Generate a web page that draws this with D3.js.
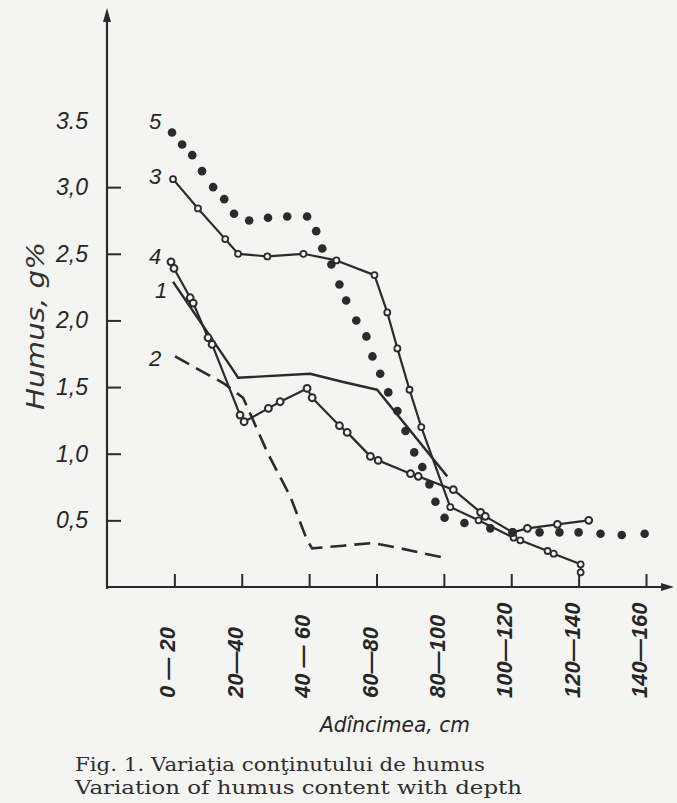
<!DOCTYPE html>
<html><head><meta charset="utf-8">
<script src="https://cdn.jsdelivr.net/npm/d3@7"></script>
<style>
html,body{margin:0;padding:0;background:#f4f4f2;}
svg{display:block;}
</style></head>
<body>
<script>
// ---- data ----
const depthLabels = ["0 — 20","20—40","40 — 60","60—80","80—100","100—120","120—140","140—160"];
const depthTicks = [20,40,60,80,100,120,140,160];
const humusTicks = [0.5,1.0,1.5,2.0,2.5,3.0,3.5];
const humusTickLabels = ["0,5","1,0","1,5","2,0","2,5","3,0","3.5"];

const s5Depth = [19.3,22.3,25.3,28.2,31.5,34.8,37.7,42.2,47.8,53.5,59.4,62.1,63.9,66.6,69.0,71.0,74.0,77.0,78.8,81.1,83.5,86.2,88.6,91.2,93.6,95.7,97.5,100.2,106.1,113.8,120.4,128.4,134.3,140.0,146.5,152.8,159.6];
const s5Humus = [3.41,3.32,3.24,3.12,3.00,2.91,2.80,2.75,2.77,2.78,2.78,2.67,2.54,2.42,2.27,2.15,2.00,1.88,1.73,1.60,1.46,1.32,1.17,1.01,0.90,0.77,0.64,0.52,0.48,0.44,0.41,0.41,0.41,0.41,0.40,0.39,0.40];

const s3Depth = [19.6,27.0,35.1,38.9,47.6,58.3,68.1,79.4,83.2,86.2,89.8,93.3,101.9,110.3,120.7,122.7,130.8,132.6,140.6,140.6];
const s3Humus = [3.06,2.84,2.61,2.50,2.48,2.50,2.45,2.34,2.06,1.79,1.48,1.20,0.60,0.50,0.37,0.35,0.27,0.25,0.17,0.11];

const s4Depth = [19.0,19.9,24.7,25.6,30.0,31.2,39.5,40.7,47.9,51.4,59.4,60.9,69.0,71.3,78.2,80.5,90.1,92.4,102.8,110.9,112.3,120.4,124.8,133.7,143.0];
const s4Humus = [2.44,2.39,2.17,2.13,1.87,1.82,1.29,1.24,1.34,1.39,1.49,1.42,1.21,1.16,0.98,0.95,0.85,0.83,0.73,0.56,0.53,0.41,0.44,0.47,0.50];

const s1Depth = [19.6,37.1,38.9,60.3,69.8,80.2,101.0];
const s1Humus = [2.29,1.64,1.57,1.60,1.54,1.48,0.83];

const s2Depth = [20.2,34.5,40.4,47.6,54.4,59.4,60.9,70.1,78.8,87.1,99.9];
const s2Humus = [1.73,1.53,1.42,1.01,0.68,0.35,0.29,0.31,0.33,0.29,0.22];

const seriesNames = ["5","3","4","1","2"];
const seriesLabelHumus = [3.5,3.08,2.48,2.23,1.72];

// ---- drawing ----
const W = 677, H = 803;
const ink = "#2b2b2b";
const svg = d3.select("body").append("svg").attr("width", W).attr("height", H);
svg.append("rect").attr("width", W).attr("height", H).attr("fill", "#f4f4f2");

const x = d3.scaleLinear().domain([0,160]).range([107,646]);
const y = d3.scaleLinear().domain([0,3.5]).range([587,120.5]);

// axes lines with arrows
svg.append("line").attr("x1",x(0)).attr("x2",x(0)).attr("y1",14).attr("y2",y(0)+2)
  .attr("stroke",ink).attr("stroke-width",2.2);
svg.append("path").attr("d",`M${x(0)},8 L${x(0)-4},22 L${x(0)+4},22 Z`).attr("fill",ink);
svg.append("line").attr("x1",x(0)).attr("x2",666).attr("y1",y(0)).attr("y2",y(0))
  .attr("stroke",ink).attr("stroke-width",2.2);
svg.append("path").attr("d",`M674,${y(0)} L661,${y(0)-4} L661,${y(0)+4} Z`).attr("fill",ink);

// y ticks
const yAxis = d3.axisRight(y).tickValues(humusTicks.filter(v=>v<=3.0)).tickSize(14).tickFormat("");
const gy = svg.append("g").attr("transform",`translate(${x(0)},0)`).call(yAxis);
gy.select(".domain").remove();
gy.selectAll(".tick line").attr("stroke",ink).attr("stroke-width",2);

// y tick labels
svg.append("g").selectAll("text").data(humusTicks).join("text")
  .attr("x",88).attr("y",d=>y(d)+8)
  .attr("text-anchor","end")
  .attr("font-family","Liberation Sans, Arial, sans-serif")
  .attr("font-style","italic").attr("font-size",23).attr("fill","#262626")
  .text((d,i)=>humusTickLabels[i]);

// x ticks
const xAxis = d3.axisTop(x).tickValues(depthTicks).tickSize(13).tickFormat("");
const gx = svg.append("g").attr("transform",`translate(0,${y(0)})`).call(xAxis);
gx.select(".domain").remove();
gx.selectAll(".tick line").attr("stroke",ink).attr("stroke-width",2);

// x tick labels (rotated)
svg.append("g").selectAll("text").data(depthTicks).join("text")
  .attr("transform",d=>`translate(${x(d)+1},698) rotate(-90)`)
  .attr("text-anchor","start")
  .attr("font-family","Liberation Sans, Arial, sans-serif")
  .attr("font-style","italic").attr("font-weight","bold").attr("font-size",22).attr("fill","#262626")
  .text((d,i)=>depthLabels[i]);

// axis titles
svg.append("text").attr("x",395).attr("y",732).attr("text-anchor","middle")
  .attr("font-family","DejaVu Sans, sans-serif").attr("font-style","italic")
  .attr("font-size",21).attr("fill","#262626").attr("textLength",150).attr("lengthAdjust","spacingAndGlyphs")
  .text("Adîncimea, cm");
svg.append("text").attr("transform","translate(44,326) rotate(-90)").attr("text-anchor","middle")
  .attr("font-family","DejaVu Sans, sans-serif").attr("font-style","italic")
  .attr("font-size",25).attr("fill","#333").attr("textLength",168).attr("lengthAdjust","spacingAndGlyphs")
  .text("Humus, g%");

// caption
const cap = svg.append("g").attr("font-family","DejaVu Serif, Liberation Serif, serif")
  .attr("font-size",18).attr("fill","#2e2e2e");
cap.append("text").attr("x",75).attr("y",771).attr("textLength",410).attr("lengthAdjust","spacingAndGlyphs")
  .text("Fig. 1. Variaţia conţinutului de humus");
cap.append("text").attr("x",75).attr("y",794).attr("textLength",447).attr("lengthAdjust","spacingAndGlyphs")
  .text("Variation of humus content with depth");

const zip = (a,b)=>a.map((d,i)=>[d,b[i]]);
const line = d3.line().x(d=>x(d[0])).y(d=>y(d[1]));

// series 1 (plain solid)
svg.append("path").attr("d",line(zip(s1Depth,s1Humus))).attr("fill","none")
  .attr("stroke",ink).attr("stroke-width",2.4).attr("stroke-linejoin","round");
// series 2 (dashed)
svg.append("path").attr("d",line(zip(s2Depth,s2Humus))).attr("fill","none")
  .attr("stroke",ink).attr("stroke-width",2.6).attr("stroke-dasharray","16,8");
// series 3 (solid with open circles)
svg.append("path").attr("d",line(zip(s3Depth,s3Humus))).attr("fill","none")
  .attr("stroke",ink).attr("stroke-width",2.2).attr("stroke-linejoin","round");
svg.append("g").selectAll("circle").data(zip(s3Depth,s3Humus)).join("circle")
  .attr("cx",d=>x(d[0])).attr("cy",d=>y(d[1])).attr("r",3)
  .attr("fill","#f4f4f2").attr("stroke",ink).attr("stroke-width",1.8);
// series 4 (solid with circles)
svg.append("path").attr("d",line(zip(s4Depth,s4Humus))).attr("fill","none")
  .attr("stroke",ink).attr("stroke-width",2.2).attr("stroke-linejoin","round");
svg.append("g").selectAll("circle").data(zip(s4Depth,s4Humus)).join("circle")
  .attr("cx",d=>x(d[0])).attr("cy",d=>y(d[1])).attr("r",3.4)
  .attr("fill","#f4f4f2").attr("stroke",ink).attr("stroke-width",2);
// series 5 (big dots)
svg.append("g").selectAll("circle").data(zip(s5Depth,s5Humus)).join("circle")
  .attr("cx",d=>x(d[0])).attr("cy",d=>y(d[1])).attr("r",4.3).attr("fill",ink);

// series labels
svg.append("g").selectAll("text").data(seriesNames).join("text")
  .attr("x",(d,i)=> i===3 ? 155 : 149).attr("y",(d,i)=>y(seriesLabelHumus[i])+8)
  .attr("font-family","Liberation Sans, Arial, sans-serif").attr("font-style","italic")
  .attr("font-size",22).attr("fill","#262626").text(d=>d);
</script>
</body></html>
